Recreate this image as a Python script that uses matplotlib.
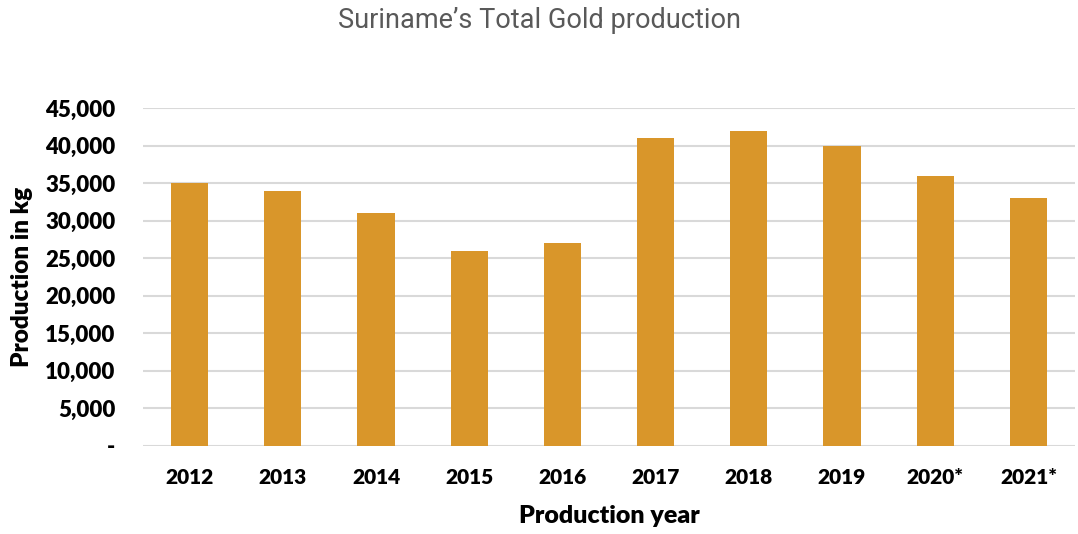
import matplotlib.pyplot as plt
from matplotlib.ticker import FuncFormatter

# Data
years = ['2012', '2013', '2014', '2015', '2016', '2017', '2018', '2019', '2020*', '2021*']
production = [35000, 34000, 31000, 26000, 27000, 41000, 42000, 40000, 36000, 33000]

plt.rcParams['font.family'] = 'Lato'
plt.rcParams['font.weight'] = 'bold'

fig = plt.figure(figsize=(10.78, 5.34), dpi=100)
ax = fig.add_axes([0.1327, 0.1648, 0.8645, 0.633])

ax.bar(years, production, width=0.4, color='#D9962A', zorder=3)

ax.set_ylim(0, 45000)
ax.set_xlim(-0.5, len(years) - 0.5)
ax.set_yticks(range(0, 45001, 5000))
ax.yaxis.set_major_formatter(FuncFormatter(lambda v, p: '-' if v == 0 else f'{int(v):,}'))
ax.grid(axis='y', color='#D9D9D9', linewidth=1.5, zorder=0)
for s in ax.spines.values():
    s.set_visible(False)
ax.tick_params(axis='y', length=0, labelsize=16, pad=20)
ax.tick_params(axis='x', length=0, labelsize=15, pad=16)
plt.setp(ax.get_yticklabels() + ax.get_xticklabels(), fontweight='heavy')

ax.set_xlabel('Production year', fontsize=18, fontweight='heavy', labelpad=13)
ax.set_ylabel('Production in kg', fontsize=17.5, fontweight='heavy')
ax.yaxis.set_label_coords(-0.118, 0.5)

fig.text(0.5, 0.962, 'Suriname\u2019s Total Gold production', ha='center', va='center',
         fontsize=19.5, color='#595959', family='Roboto', fontweight='normal')

fig.savefig('out.png', dpi=100)
